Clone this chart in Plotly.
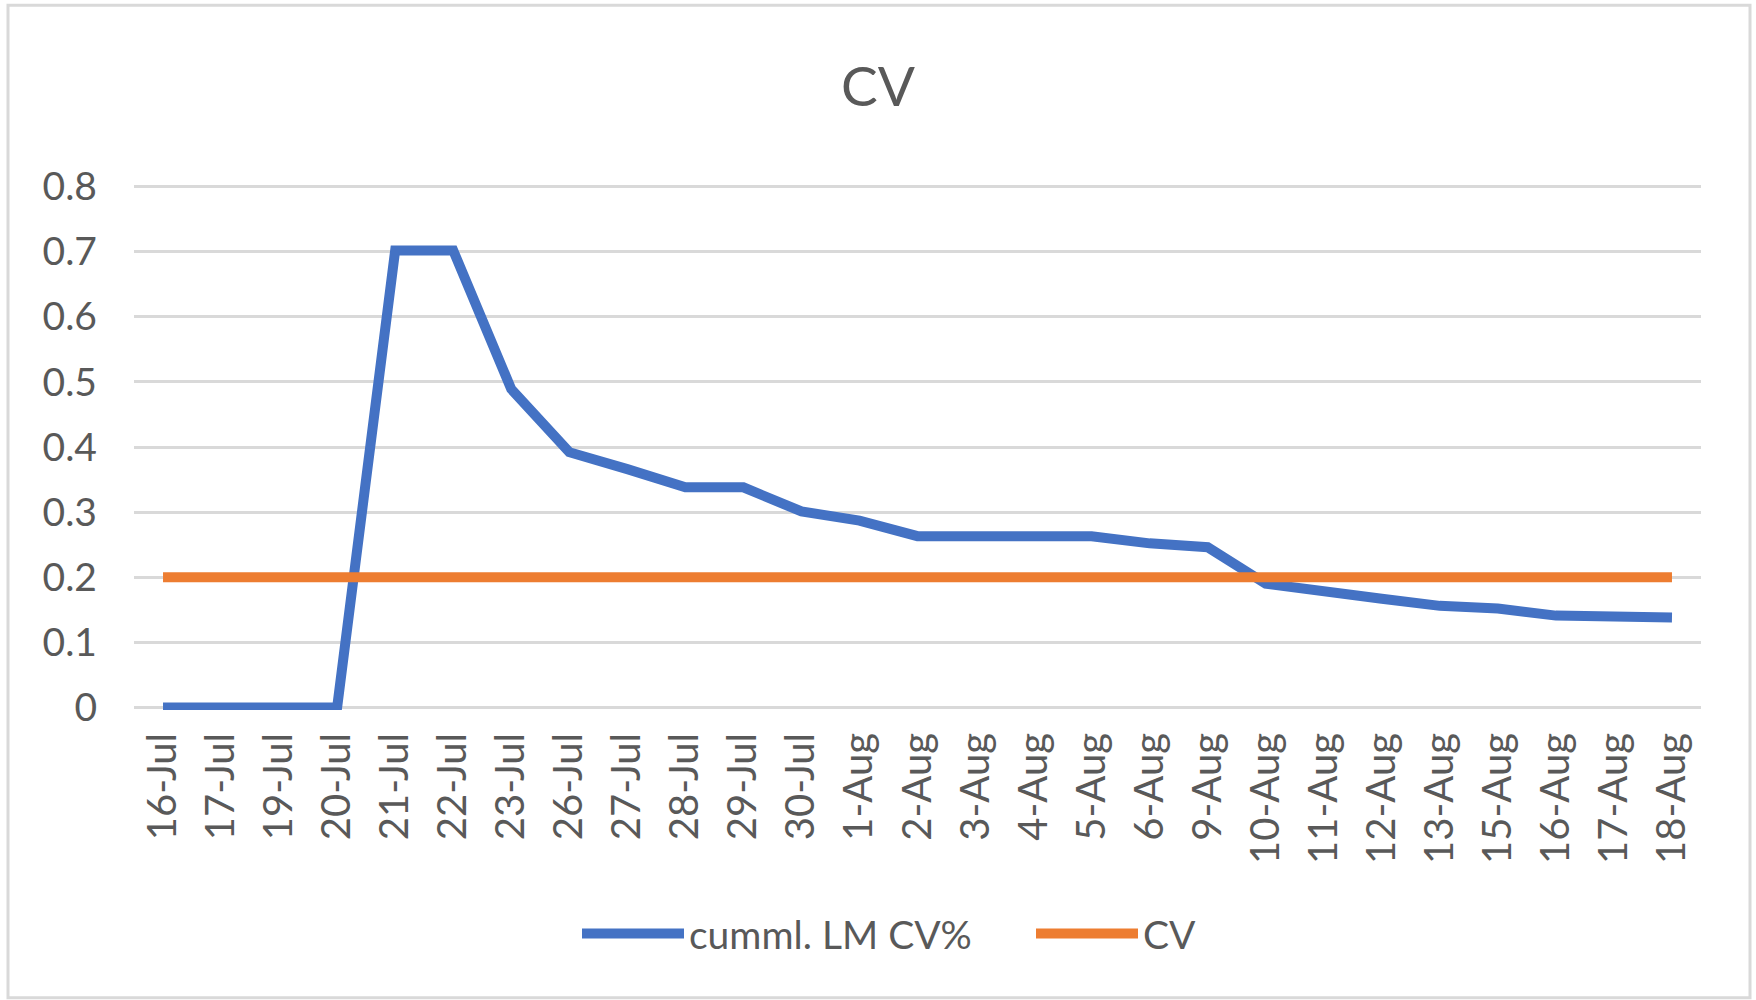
import plotly.graph_objects as go

categories = ["16-Jul", "17-Jul", "19-Jul", "20-Jul", "21-Jul", "22-Jul", "23-Jul", "26-Jul",
              "27-Jul", "28-Jul", "29-Jul", "30-Jul", "1-Aug", "2-Aug", "3-Aug", "4-Aug",
              "5-Aug", "6-Aug", "9-Aug", "10-Aug", "11-Aug", "12-Aug", "13-Aug", "15-Aug",
              "16-Aug", "17-Aug", "18-Aug"]
cumml_lm_cv = [0, 0, 0, 0, 0.702, 0.702, 0.489, 0.392,
               0.366, 0.338, 0.338, 0.301, 0.287, 0.263, 0.263, 0.263,
               0.263, 0.252, 0.246, 0.190, 0.180, 0.167, 0.156, 0.152,
               0.141, 0.138, 0.138]
cv_limit = [0.2] * len(categories)

y_ticks = [0, 0.1, 0.2, 0.3, 0.4, 0.5, 0.6, 0.7, 0.8]
y_tick_labels = ["0", "0.1", "0.2", "0.3", "0.4", "0.5", "0.6", "0.7", "0.8"]

FONT = "Lato, Carlito, Open Sans, sans-serif"
TEXT = "#595959"

fig = go.Figure()
fig.add_trace(go.Scatter(x=categories, y=cumml_lm_cv, mode="lines", name="cumml. LM CV%",
                         line=dict(color="#4472C4", width=10)))
fig.add_trace(go.Scatter(x=categories, y=cv_limit, mode="lines", name="CV",
                         line=dict(color="#ED7D31", width=10)))

W, H = 1756, 1000
PPU = 650.0  # pixels per y unit
PAD = 0.004
L, R = 134, 55
T = 187 - PAD * PPU
B = H - 707 - PAD * PPU
pw, ph = W - L - R, H - T - B

def px_x(p):
    return (p - L) / pw

def px_y(p):
    return (H - B - p) / ph

fig.update_layout(
    width=W, height=H,
    margin=dict(l=L, r=R, t=T, b=B, pad=0),
    paper_bgcolor="white", plot_bgcolor="white",
    font=dict(family=FONT, color=TEXT, size=39),
    title=dict(text="CV", x=0.5, xref="container", xanchor="center",
               y=1 - 87 / H, yref="container", yanchor="middle",
               font=dict(size=55, color=TEXT)),
    showlegend=True,
    legend=dict(orientation="h", x=px_x(577), xanchor="left", y=px_y(933), yanchor="middle",
                font=dict(size=39, color=TEXT), itemwidth=102, entrywidth=337,
                traceorder="normal"),
    xaxis=dict(type="category", range=[-0.5, len(categories) - 0.5], showgrid=False,
               tickangle=-90, ticks="", showline=False, zeroline=False,
               tickfont=dict(size=40, color=TEXT), ticklabelstandoff=14),
    yaxis=dict(range=[-PAD, 0.8 + PAD], tickvals=y_ticks, ticktext=y_tick_labels,
               showgrid=True, gridcolor="#d9d9d9", gridwidth=3, zeroline=False,
               showline=False, ticks="", tickfont=dict(size=39, color=TEXT),
               ticklabelstandoff=36),
    shapes=[dict(type="rect", xref="paper", yref="paper",
                 x0=px_x(8), x1=px_x(1750), y0=px_y(997), y1=px_y(6),
                 line=dict(color="#d9d9d9", width=3), fillcolor="rgba(0,0,0,0)", layer="below")],
)

fig.write_html("out.html", config={"displayModeBar": False},
               post_script="document.body.style.margin='0';")
